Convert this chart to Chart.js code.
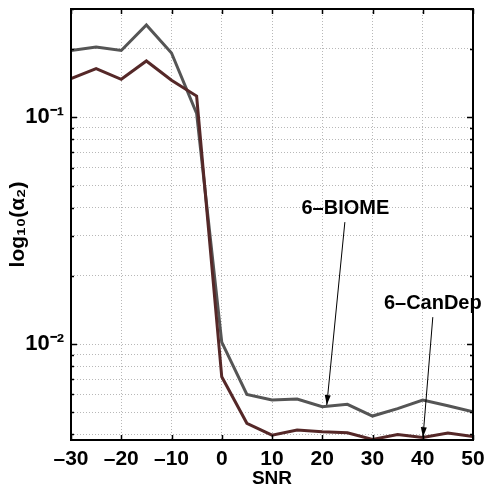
<!DOCTYPE html>
<html><head><meta charset="utf-8">
<script src="https://cdn.jsdelivr.net/npm/chart.js@4/dist/chart.umd.min.js"></script>
<style>html,body{margin:0;padding:0;background:#fff}#wrap{width:484px;height:490px;position:relative}</style>
</head><body><div id="wrap"><canvas id="c" width="484" height="490"></canvas></div>
<script>
const snr = [-30,-25,-20,-15,-10,-5,0,5,10,15,20,25,30,35,40,45,50];
const biome = [0.197,0.204,0.197,0.255,0.192,0.104,0.0102,0.0060,0.00567,0.00573,0.0053,0.00543,0.00482,0.0052,0.00567,0.00535,0.00503];
const candep = [0.148,0.164,0.147,0.177,0.1456,0.124,0.00718,0.00448,0.00397,0.00418,0.00411,0.00407,0.0038,0.0040,0.00388,0.00406,0.00392];
const xTicks = [-30,-20,-10,0,10,20,30,40,50];
const yTicks = [0.004,0.005,0.006,0.007,0.008,0.009,0.01,0.02,0.03,0.04,0.05,0.06,0.07,0.08,0.09,0.1,0.2,0.3];
const yTickLabels = {"0.01":"10\u207B\u00B2","0.1":"10\u207B\u00B9"};
const seriesNames = ["6\u2013CanDep","6\u2013BIOME"];
// annotation: [label, textX, textY, lineStartX, lineStartY, tipX, tipY] in data units
const noteBiome = ["6\u2013BIOME", 24.6, 0.0397, 24.5, 0.0345, 20.9, 0.00539];
const noteCandep = ["6\u2013CanDep", 42.0, 0.01516, 42.0, 0.01315, 40.05, 0.00389];

const FONT = '"Liberation Sans Narrow","Liberation Sans",Arial,sans-serif';

const framePlugin = {
  id: 'frame',
  afterDatasetsDraw(chart) {
    const {ctx, chartArea: a, scales} = chart;
    const xs = scales.x, ys = scales.y;
    ctx.save();
    ctx.strokeStyle = '#000';
    ctx.lineWidth = 1.5;
    ctx.beginPath();
    xTicks.forEach(v => {
      const px = Math.round(xs.getPixelForValue(v)) + 0.5;
      ctx.moveTo(px, a.bottom); ctx.lineTo(px, a.bottom - 5);
      ctx.moveTo(px, a.top); ctx.lineTo(px, a.top + 5);
    });
    yTicks.forEach(v => {
      const py = Math.round(ys.getPixelForValue(v)) + 0.5;
      const len = yTickLabels[String(v)] ? 6 : 3;
      ctx.moveTo(a.left, py); ctx.lineTo(a.left + len, py);
      ctx.moveTo(a.right, py); ctx.lineTo(a.right - len, py);
    });
    ctx.stroke();
    ctx.lineWidth = 2;
    ctx.strokeRect(a.left, a.top, a.right - a.left, a.bottom - a.top);
    [noteBiome, noteCandep].forEach(n => {
      const tx = xs.getPixelForValue(n[1]), ty = ys.getPixelForValue(n[2]);
      const sx = xs.getPixelForValue(n[3]), sy = ys.getPixelForValue(n[4]);
      const ex = xs.getPixelForValue(n[5]), ey = ys.getPixelForValue(n[6]);
      ctx.fillStyle = '#000';
      ctx.font = 'bold 20px ' + FONT;
      ctx.textAlign = 'center';
      ctx.textBaseline = 'middle';
      ctx.fillText(n[0], tx, ty);
      ctx.lineWidth = 1;
      ctx.beginPath(); ctx.moveTo(sx, sy); ctx.lineTo(ex, ey); ctx.stroke();
      const ang = Math.atan2(ey - sy, ex - sx);
      const L = 10, W = 3;
      ctx.beginPath();
      ctx.moveTo(ex, ey);
      ctx.lineTo(ex - L*Math.cos(ang) + W*Math.sin(ang), ey - L*Math.sin(ang) - W*Math.cos(ang));
      ctx.lineTo(ex - L*Math.cos(ang) - W*Math.sin(ang), ey - L*Math.sin(ang) + W*Math.cos(ang));
      ctx.closePath(); ctx.fill();
    });
    ctx.restore();
  }
};

new Chart(document.getElementById('c'), {
  type: 'line',
  data: {
    datasets: [
      { label: seriesNames[0], data: snr.map((x,i)=>({x, y: candep[i]})), borderColor: '#552828', borderWidth: 3, pointRadius: 0, tension: 0 },
      { label: seriesNames[1], data: snr.map((x,i)=>({x, y: biome[i]})), borderColor: '#555555', borderWidth: 3, pointRadius: 0, tension: 0 }
    ]
  },
  options: {
    responsive: false,
    animation: false,
    devicePixelRatio: 1,
    layout: { padding: { top: 9, right: 11, left: 0, bottom: 0 } },
    plugins: { legend: { display: false }, tooltip: { enabled: false } },
    scales: {
      x: {
        type: 'linear', min: -30, max: 50,
        afterBuildTicks: s => { s.ticks = xTicks.map(v => ({value: v})); },
        afterFit: s => { s.height = 50; s.paddingLeft = 0; s.paddingRight = 0; },
        ticks: { color: '#000', font: { family: FONT, size: 21, weight: 'bold' }, padding: 7, maxRotation: 0, autoSkip: false,
          callback: v => (v < 0 ? '\u2013' + Math.abs(v) : String(v)) },
        grid: { color: '#b8b8b8', lineWidth: 1, drawTicks: false },
        border: { display: false, dash: [1, 2] },
        title: { display: true, text: 'SNR', color: '#000', font: { family: FONT, size: 19, weight: 'bold' }, padding: { top: -6, bottom: 0 } }
      },
      y: {
        type: 'logarithmic', min: 0.00378, max: 0.3,
        afterBuildTicks: s => { s.ticks = yTicks.map(v => ({value: v, major: !!yTickLabels[String(v)]})); },
        afterFit: s => { s.width = 71; s.paddingTop = 0; s.paddingBottom = 0; },
        ticks: { color: '#000', font: { family: FONT, size: 22, weight: 'bold' }, padding: 7, autoSkip: false,
          callback: v => yTickLabels[String(v)] || '' },
        grid: { color: '#b8b8b8', lineWidth: 1, drawTicks: false },
        border: { display: false, dash: [1, 2] },
        title: { display: true, text: 'log\u2081\u2080(\u03B1\u2082)', color: '#000', font: { family: '"Liberation Sans",Arial,sans-serif', size: 21, weight: 'bold' }, padding: { top: 6, bottom: 0 } }
      }
    }
  },
  plugins: [framePlugin]
});
</script>
</body></html>
